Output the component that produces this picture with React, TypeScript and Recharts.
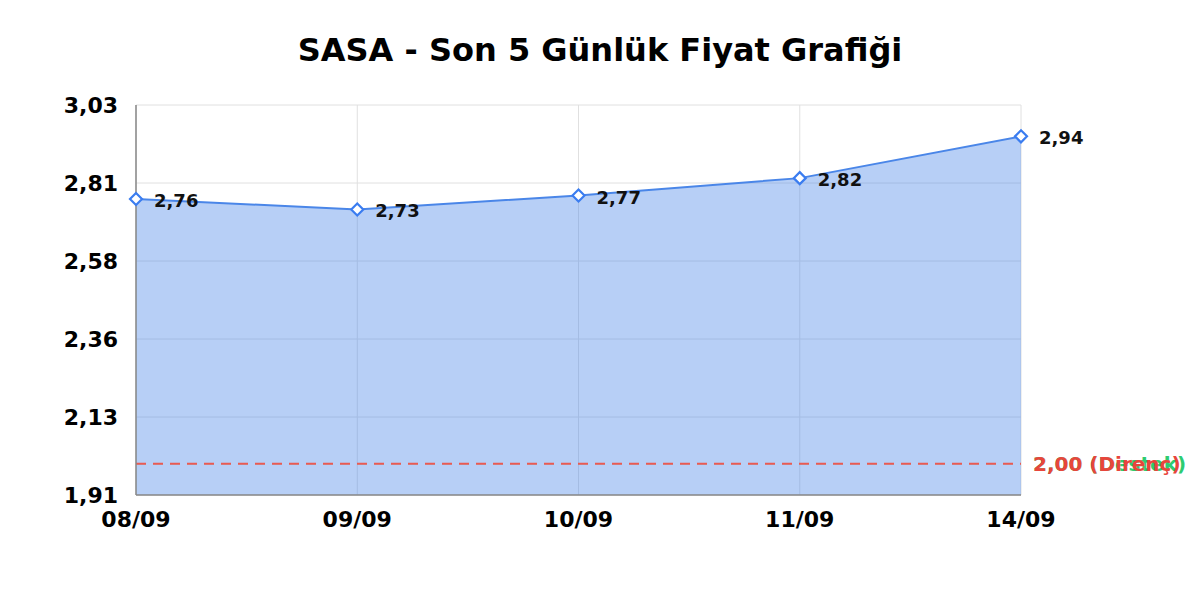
import React from 'react';
import {
  AreaChart,
  Area,
  XAxis,
  YAxis,
  CartesianGrid,
  ReferenceLine,
} from 'recharts';

const dates = ['08/09', '09/09', '10/09', '11/09', '14/09'];
const prices = [2.76, 2.73, 2.77, 2.82, 2.94];
const yTicks = [1.91, 2.134, 2.358, 2.582, 2.806, 3.03];
const yDomain = [1.91, 3.03];
const supportLevel = 2.0;
const resistanceLevel = 2.0;
const supportText = '2,00 (Destek)';
const resistanceText = '2,00 (Direnç)';
const titleText = 'SASA - Son 5 Günlük Fiyat Grafiği';

const data = dates.map((d, i) => ({ date: d, price: prices[i] }));

const FONT = "'DejaVu Sans', Verdana, sans-serif";
const fmt = (v: number) => v.toFixed(2).replace('.', ',');

const Diamond = (props: any) => {
  const { cx, cy, index } = props;
  if (cx == null || cy == null) return null;
  const r = 6;
  return (
    <path
      key={`dot-${index}`}
      d={`M${cx},${cy - r} L${cx + r},${cy} L${cx},${cy + r} L${cx - r},${cy} Z`}
      fill="#ffffff"
      stroke="#3b7df0"
      strokeWidth={2.2}
    />
  );
};

const PointLabel = (props: any) => {
  const { x, y, value, index } = props;
  if (x == null || y == null) return null;
  return (
    <text
      key={`lbl-${index}`}
      x={x + 18}
      y={y + 8}
      fontFamily={FONT}
      fontSize={18}
      fontWeight="bold"
      fill="#111"
      textAnchor="start"
    >
      {fmt(Number(value))}
    </text>
  );
};

export default function App() {
  return (
    <div style={{ position: 'relative', width: 1184, height: 580, fontFamily: FONT }}>
      <div
        style={{
          position: 'absolute',
          left: 0,
          top: 27,
          width: 1184,
          textAlign: 'center',
          fontSize: 32,
          lineHeight: '31px',
          fontWeight: 'bold',
          color: '#000',
          fontFamily: FONT,
        }}
      >
        {titleText}
      </div>
      <AreaChart
        width={1184}
        height={580}
        data={data}
        margin={{ top: 97, right: 171, left: 0, bottom: 33 }}
      >
        <CartesianGrid stroke="#e0e0e0" strokeWidth={1} />
        <XAxis
          dataKey="date"
          height={60}
          tickSize={0}
          tickMargin={16}
          axisLine={{ stroke: '#888', strokeWidth: 1.5 }}
          tick={{ fill: '#000', fontSize: 22, fontWeight: 'bold', fontFamily: FONT }}
          interval={0}
        />
        <YAxis
          width={128}
          domain={yDomain}
          ticks={yTicks}
          type="number"
          allowDataOverflow
          tickSize={0}
          tickMargin={18}
          tickFormatter={fmt}
          axisLine={{ stroke: '#888', strokeWidth: 1.5 }}
          tick={{ fill: '#000', fontSize: 22, fontWeight: 'bold', fontFamily: FONT }}
        />
        <Area
          type="linear"
          dataKey="price"
          stroke="#4a86e8"
          strokeWidth={2}
          fill="#4a86e8"
          fillOpacity={0.4}
          baseValue="dataMin"
          dot={Diamond}
          activeDot={false}
          label={PointLabel}
          isAnimationActive={false}
        />
        <ReferenceLine
          y={supportLevel}
          stroke="#2ecc71"
          strokeWidth={0.8}
          strokeDasharray="10 7"
          label={{
            value: supportText,
            position: 'right',
            offset: 12,
            fill: '#2ecc71',
            fontSize: 20,
            fontWeight: 'bold',
            fontFamily: FONT,
          }}
        />
        <ReferenceLine
          y={resistanceLevel}
          stroke="#ea5a52"
          strokeWidth={2}
          strokeDasharray="10 7"
          label={{
            value: resistanceText,
            position: 'right',
            offset: 12,
            fill: '#e8453c',
            fontSize: 20,
            fontWeight: 'bold',
            fontFamily: FONT,
          }}
        />
      </AreaChart>
    </div>
  );
}
